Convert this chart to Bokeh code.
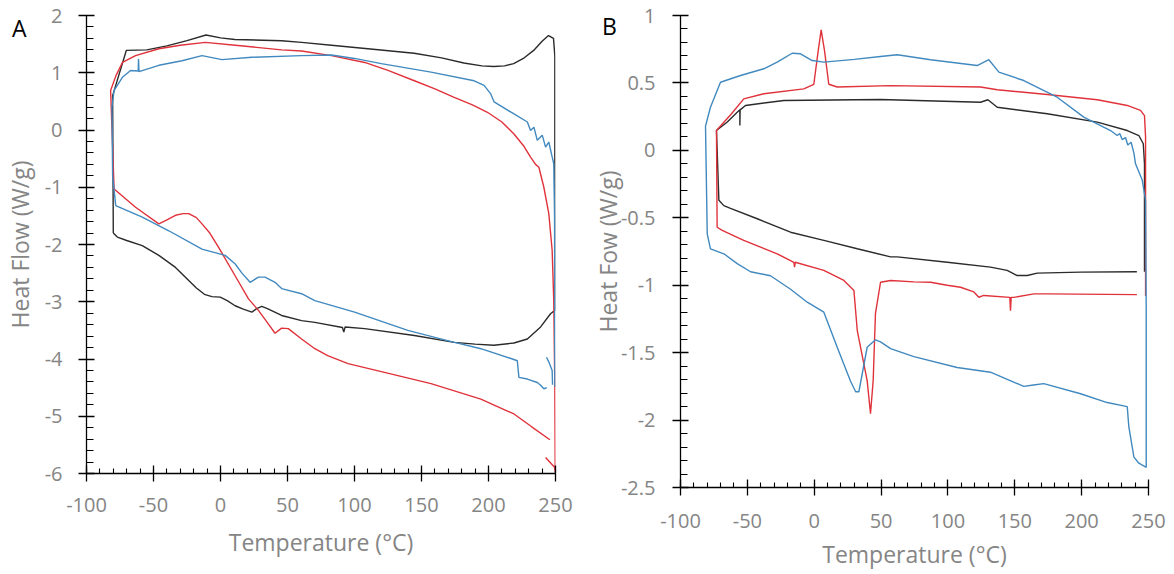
from jinja2 import Template
from bokeh.plotting import figure
from bokeh.layouts import row
from bokeh.models import Range1d, FixedTicker, NumeralTickFormatter
from bokeh.embed import file_html
from bokeh.resources import INLINE

nan = float("nan")

# ---------------- Panel A data ----------------
a_black_x = [-80, -80.5, -70.3, -55, -40, -25, -10.8, 0, 10.7, 45.6, 60.5, 82.8, 110, 144.5, 165, 181.6, 195, 204,
             212, 218.8, 226, 233.7, 240, 244.8, 248.5, 249.5, 249.5, 246.3, 238.9, 229, 219, 204, 190, 174.4, 144.7,
             107.6, 93, 92, 91, 70.4, 60.5, 45.6, 35, 30.8, 27, 23.4, 17, 10.9, 5, -0.2, -6.4, -12, -18, -23.7,
             -33.6, -46, -58.4, -70, -77, -80]
a_black_y = [-1.80, 0.6, 1.39, 1.40, 1.47, 1.56, 1.66, 1.61, 1.58, 1.56, 1.53, 1.48, 1.42, 1.34, 1.26, 1.17, 1.12,
             1.11, 1.12, 1.16, 1.25, 1.39, 1.55, 1.65, 1.60, 1.3, -3.15, -3.21, -3.44, -3.65, -3.72, -3.76, -3.74,
             -3.71, -3.59, -3.47, -3.44, -3.53, -3.45, -3.36, -3.33, -3.24, -3.12, -3.08, -3.12, -3.18, -3.13, -3.07,
             -2.98, -2.92, -2.91, -2.87, -2.76, -2.63, -2.40, -2.19, -2.02, -1.93, -1.87, -1.80]

a_red_x = [-79.4, -80.5, -82, -78, -73.2, -63.4, -46, -30, -11.3, 11, 45.6, 60.5, 82.8, 107.6, 125, 144.7, 160,
           174.4, 188, 199.2, 210, 219, 226, 231.4, 235.1, 237.6, 241.3, 245, 247.5, 248.7, 249.5, 249.8, 249.3,
           242.6, nan,
           245.8, 232, 219, 194.3, 157.1, 132.4, 95.2, 80, 70.4, 60.5, 50.6, 45.6, 40.7, 35.8, 28.3, 20.9, 11,
           -1.4, -8, -13.8, -18, -23.7, -28, -33.6, -40, -46, -63.4, -79.4]
a_red_y = [-1.03, -0.3, 0.69, 0.95, 1.18, 1.30, 1.42, 1.48, 1.53, 1.48, 1.40, 1.38, 1.30, 1.18, 1.04, 0.86, 0.72,
           0.57, 0.44, 0.31, 0.14, -0.07, -0.27, -0.475, -0.60, -0.65, -1.0, -1.46, -2.1, -2.98, -4.5, -5.98, -5.89,
           -5.72, nan,
           -5.41, -5.18, -4.96, -4.70, -4.43, -4.29, -4.08, -3.94, -3.82, -3.65, -3.47, -3.46, -3.55, -3.39, -3.15,
           -2.95, -2.55, -2.05, -1.80, -1.64, -1.53, -1.46, -1.46, -1.49, -1.57, -1.64, -1.35, -1.03]

a_blue_x = [-78.2, -80.5, -81, -79.4, -73.2, -67.1, -61.4, -61.2, -60.8, -46, -28.7, -13.8, 1.1, 23.4, 60.5, 82.8,
            100, 120, 157.1, 189.3, 196.7, 201.7, 204.2, 219, 229, 231.4, 233.9, 236.4, 240.1, 242.6, 245, 247.5,
            248.7, 249.3, 249.5, nan,
            243.3, 245, 247.5, 247.8, nan,
            243.5, 241.3, 238.5, 236.4, 229, 222.7, 221.5, 217.8, 194.3, 169.4, 139.8, 100.1, 70.4, 60.5, 45.6,
            40.7, 33.2, 28.3, 22.1, 16, 11, 3.5, -13.8, -38.6, -58.4, -78.2]
a_blue_y = [-1.32, -0.8, 0.4, 0.69, 0.92, 1.04, 1.03, 1.24, 1.02, 1.13, 1.21, 1.30, 1.23, 1.27, 1.30, 1.31, 1.25,
            1.16, 1.01, 0.86, 0.78, 0.63, 0.49, 0.28, 0.14, -0.01, 0.05, -0.18, -0.09, -0.30, -0.21, -0.47, -0.59,
            -1.5, -4.49, nan,
            -3.97, -4.05, -4.20, -4.45, nan,
            -4.50, -4.52, -4.45, -4.41, -4.35, -4.32, -4.03, -4.0, -3.82, -3.68, -3.50, -3.18, -2.98, -2.86, -2.77,
            -2.66, -2.57, -2.57, -2.66, -2.50, -2.34, -2.19, -2.08, -1.76, -1.52, -1.32]

# ---------------- Panel B data ----------------
b_blue_x = [-80, -81.3, -77.6, -70.1, -55.1, -37.7, -27.7, -16.5, -10.3, -1.5, 7.2, 30, 49.6, 62.1, 87, 121.9,
            130.6, 138.1, 156.7, 181.7, 201.6, 221.6, 226.6, 228.5, 230.3, 232.8, 234.5, 237, 239.1, 240.3, 245.3,
            247.8, 248.3, 248.3, 242.8, 239.1, 235.3, 234.1, 219.1, 199.2, 171.7, 164, 156.7, 131.8, 106.9, 74.5,
            57.1, 49.6, 45.8, 39.6, 33.4, 31, 27.1, 17.2, 7.2, -5.2, -17.7, -32.7, -47.6, -57.6, -67.6, -77.6, -80]
b_blue_y = [-0.62, 0.18, 0.32, 0.505, 0.555, 0.605, 0.654, 0.72, 0.716, 0.666, 0.654, 0.675, 0.696, 0.709, 0.672,
            0.629, 0.672, 0.58, 0.518, 0.394, 0.246, 0.147, 0.11, 0.125, 0.08, 0.095, 0.04, 0.06, -0.02, -0.10, -0.22,
            -0.37, -1.2, -2.35, -2.32, -2.275, -2.05, -1.90, -1.87, -1.805, -1.73, -1.74, -1.75, -1.645, -1.61, -1.53,
            -1.47, -1.42, -1.405, -1.46, -1.79, -1.79, -1.71, -1.46, -1.20, -1.126, -1.03, -0.93, -0.90, -0.84,
            -0.767, -0.73, -0.62]

b_red_x = [-73.1, -62, -52.7, -37.7, -7.8, -0.3, 3, 5.2, 7.7, 10.9, 17.2, 57.1, 124.4, 136.9, 174.3, 211.7, 234.1,
           244, 247, 247.8, 247.8, nan,
           241.3, 174.3, 164.3, 149.3, 147.3, 146.8, 146.3, 126.8, 123.1, 119.4, 109.4, 99.5, 87, 74.5, 57.1, 49.6,
           45.8, 44.1, 42.1, 39.6, 32.2, 29.7, 22.2, 7.2, -14.2, -14.7, -15.2, -27.7, -52.7, -68.8, -72.6, -73.1]
b_red_y = [0.147, 0.27, 0.382, 0.42, 0.456, 0.49, 0.74, 0.894, 0.74, 0.49, 0.47, 0.48, 0.47, 0.449, 0.414, 0.375,
           0.333, 0.296, 0.258, 0.1, -1.08, nan,
           -1.07, -1.064, -1.064, -1.09, -1.09, -1.19, -1.09, -1.076, -1.089, -1.05, -1.015, -1.0, -0.978, -0.975,
           -0.965, -0.978, -1.21, -1.707, -1.953, -1.707, -1.336, -1.04, -0.965, -0.89, -0.83, -0.866, -0.83, -0.767,
           -0.668, -0.594, -0.57, 0.147]

b_black_x = [-73.1, -65, -57.6, -55.6, -55.6, -55.4, -51.4, -22.7, 49.6, 124.4, 129.9, 136.9, 174.3, 211.7, 234.1,
             242.8, 246.1, 247, 247, nan,
             241.3, 199.2, 166.8, 159.3, 151.8, 144.3, 131.8, 99.5, 62.1, 57.1, 32.2, 7.2, -17.7, -42.6, -62.6,
             -67.6, -71.3, -73.1]
b_black_y = [0.147, 0.21, 0.283, 0.30, 0.184, 0.30, 0.333, 0.37, 0.377, 0.357, 0.375, 0.32, 0.271, 0.209, 0.147,
             0.11, 0.049, -0.1, -0.90, nan,
             -0.90, -0.903, -0.91, -0.928, -0.928, -0.89, -0.866, -0.83, -0.79, -0.79, -0.73, -0.668, -0.607, -0.507,
             -0.43, -0.41, -0.37, 0.147]

x_ticks = [-100, -50, 0, 50, 100, 150, 200, 250]
a_y_ticks = [-6, -5, -4, -3, -2, -1, 0, 1, 2]
b_y_ticks = [-2.5, -2, -1.5, -1, -0.5, 0, 0.5, 1]
panel_letters = ["A", "B"]

BLACK = "#2b2b2b"
RED = "#e0323a"
BLUE = "#4189bf"
GRAY = "#858585"
FONT = "Open Sans"


def style(p, yticks, yminor, ylabel, x_lab_so, x_title_so, y_lab_so, y_title_so):
    p.outline_line_color = None
    p.grid.visible = False
    p.background_fill_color = "white"
    p.border_fill_color = "white"
    xa = p.xaxis[0]
    ya = p.yaxis[0]
    xa.ticker = FixedTicker(ticks=x_ticks, minor_ticks=[v for v in range(-100, 251, 10)])
    ya.ticker = FixedTicker(ticks=yticks, minor_ticks=yminor)
    xa.formatter = NumeralTickFormatter(format="0")
    ya.formatter = NumeralTickFormatter(format="0.[0]")
    for ax in (xa, ya):
        ax.axis_line_color = "black"
        ax.axis_line_width = 1.3
        ax.major_tick_line_color = "black"
        ax.minor_tick_line_color = "black"
        ax.major_tick_line_width = 1.3
        ax.minor_tick_line_width = 1.1
        ax.major_tick_in = 8
        ax.major_tick_out = 8
        ax.minor_tick_out = 0
        ax.major_label_text_font = FONT
        ax.major_label_text_font_size = "20px"
        ax.major_label_text_color = GRAY
        ax.axis_label_text_font = FONT
        ax.axis_label_text_font_size = "23px"
        ax.axis_label_text_font_style = "normal"
        ax.axis_label_text_color = GRAY
    xa.minor_tick_in = 5
    ya.minor_tick_in = 7
    xa.major_label_standoff = x_lab_so
    ya.major_label_standoff = y_lab_so
    xa.axis_label = "Temperature (°C)"
    ya.axis_label = ylabel
    xa.axis_label_standoff = x_title_so
    ya.axis_label_standoff = y_title_so


pA = figure(width=587, height=574, x_range=Range1d(-100, 250), y_range=Range1d(-6, 2),
            output_backend="svg", toolbar_location=None, frame_align=False,
            min_border_left=84, min_border_right=32, min_border_top=15, min_border_bottom=101)
style(pA, a_y_ticks, [round(-6 + 0.2 * i, 2) for i in range(41)], "Heat Flow (W/g)", 16, 11, 16, 6)
pA.line(a_black_x, a_black_y, line_color=BLACK, line_width=1.4)
pA.line(a_red_x, a_red_y, line_color=RED, line_width=1.4)
pA.line(a_blue_x, a_blue_y, line_color=BLUE, line_width=1.4)

pB = figure(width=587, height=574, x_range=Range1d(-100, 250), y_range=Range1d(-2.5, 1),
            output_backend="svg", toolbar_location=None, frame_align=False,
            min_border_left=93, min_border_right=26, min_border_top=15, min_border_bottom=87)
style(pB, b_y_ticks, [round(-2.5 + 0.1 * i, 2) for i in range(36)], "Heat Fow (W/g)", 18, 7, 17, -6)
pB.line(b_black_x, b_black_y, line_color=BLACK, line_width=1.4)
pB.line(b_red_x, b_red_y, line_color=RED, line_width=1.4)
pB.line(b_blue_x, b_blue_y, line_color=BLUE, line_width=1.4)

# Page template: panel letters as real text placed over the page
TEMPLATE = Template("""{% extends base %}
{% block contents %}
<div style="position:absolute;left:12px;top:17px;font-family:'Open Sans';font-size:23px;line-height:23px;color:#000;z-index:10;">{{ letter_a }}</div>
<div style="position:absolute;left:602px;top:15px;font-family:'Open Sans';font-size:23px;line-height:23px;color:#000;z-index:10;">{{ letter_b }}</div>
{{ super() }}
{% endblock %}""")

layout = row(pA, pB)
open("out.html", "w").write(file_html(layout, INLINE, template=TEMPLATE,
                                      template_variables={"letter_a": panel_letters[0],
                                                          "letter_b": panel_letters[1]}))
